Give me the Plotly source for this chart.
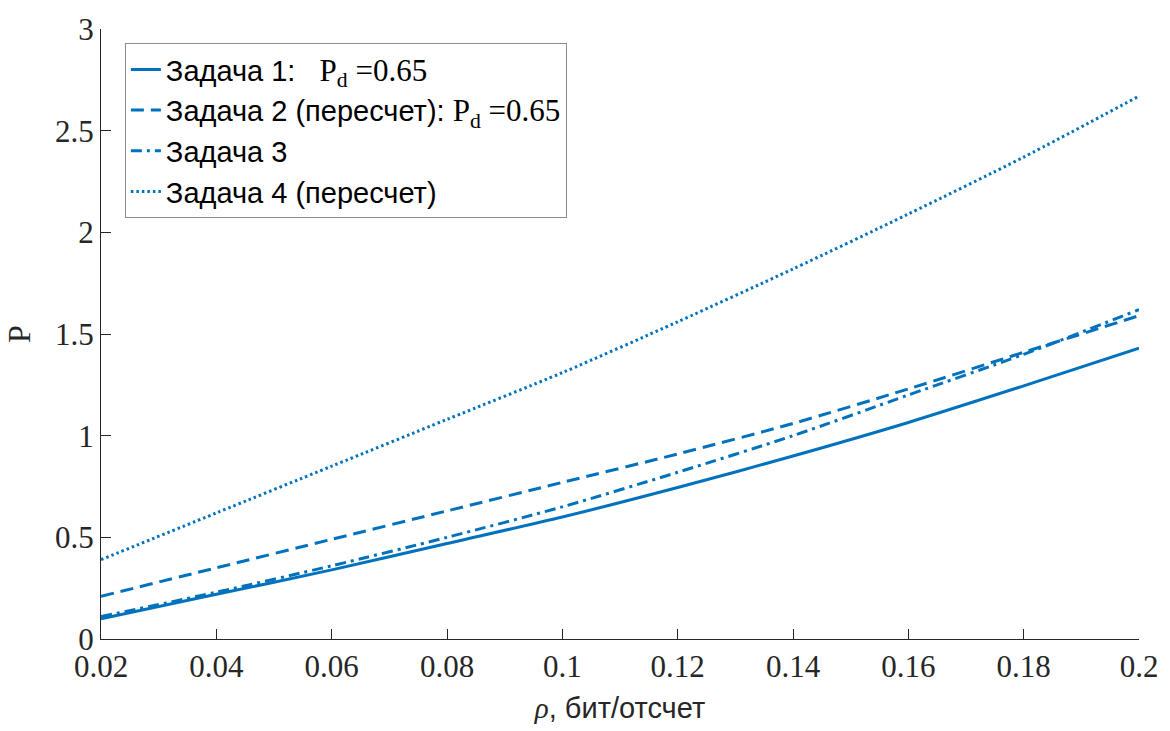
import plotly.graph_objects as go

rho = [0.02, 0.04, 0.06, 0.08, 0.10, 0.12, 0.14, 0.16, 0.18, 0.20]
task1 = [0.10, 0.22, 0.34, 0.47, 0.60, 0.745, 0.90, 1.065, 1.245, 1.43]
task2 = [0.21, 0.35, 0.49, 0.63, 0.77, 0.91, 1.06, 1.23, 1.41, 1.59]
task3 = [0.11, 0.23, 0.36, 0.50, 0.65, 0.82, 1.00, 1.20, 1.40, 1.62]
task4 = [0.39, 0.62, 0.85, 1.08, 1.31, 1.56, 1.82, 2.09, 2.37, 2.67]

serif = "'Liberation Serif'"
pd = '<span style="font-family:' + serif + ';font-size:31px">P<sub>d</sub> =0.65</span>'
names = [
    'Задача 1:&nbsp;&nbsp;&nbsp;' + pd,
    'Задача 2 (пересчет): ' + pd,
    'Задача 3',
    'Задача 4 (пересчет)',
]
dashes = ['solid', '13px,7px', '11px,5px,3px,5px', '2.5px,3px']
series = [task1, task2, task3, task4]

xticks = [0.02, 0.04, 0.06, 0.08, 0.1, 0.12, 0.14, 0.16, 0.18, 0.2]
xticklabels = ['0.02', '0.04', '0.06', '0.08', '0.1', '0.12', '0.14', '0.16', '0.18', '0.2']
yticks = [0, 0.5, 1, 1.5, 2, 2.5, 3]
yticklabels = ['0', '0.5', '1', '1.5', '2', '2.5', '3']

color = '#0072BD'
fig = go.Figure()
for nm, ys, d in zip(names, series, dashes):
    fig.add_trace(go.Scatter(x=rho, y=ys, mode='lines', name=nm,
                             line=dict(color=color, width=3, dash=d, shape='spline', smoothing=0.8)))

axis_common = dict(showline=True, linecolor='#262626', linewidth=1, ticks='inside', ticklen=10,
                   tickcolor='#262626', showgrid=False, zeroline=False, mirror=False,
                   tickfont=dict(family='Liberation Serif', size=31, color='#262626'))

fig.update_layout(
    width=1170, height=731,
    margin=dict(l=101, r=31, t=20, b=90),
    paper_bgcolor='white', plot_bgcolor='white',
    xaxis=dict(range=[0.02, 0.2], tickvals=xticks, ticktext=xticklabels,
               title=dict(text='<span style="font-family:' + serif + '"><i>ρ</i></span>, бит/отсчет',
                          font=dict(family='Liberation Sans', size=29, color='#262626'), standoff=14),
               **axis_common),
    yaxis=dict(range=[0, 3], tickvals=yticks, ticktext=yticklabels,
               title=dict(text='P', font=dict(family='Liberation Serif', size=32, color='#262626'), standoff=14),
               **axis_common),
    legend=dict(x=0.023, y=0.977, xanchor='left', yanchor='top',
                bgcolor='white', bordercolor='#8c8c8c', borderwidth=1,
                font=dict(family='Liberation Sans', size=29, color='black'),
                itemwidth=30, tracegroupgap=0),
    showlegend=True,
)

fig.write_html("out.html")
